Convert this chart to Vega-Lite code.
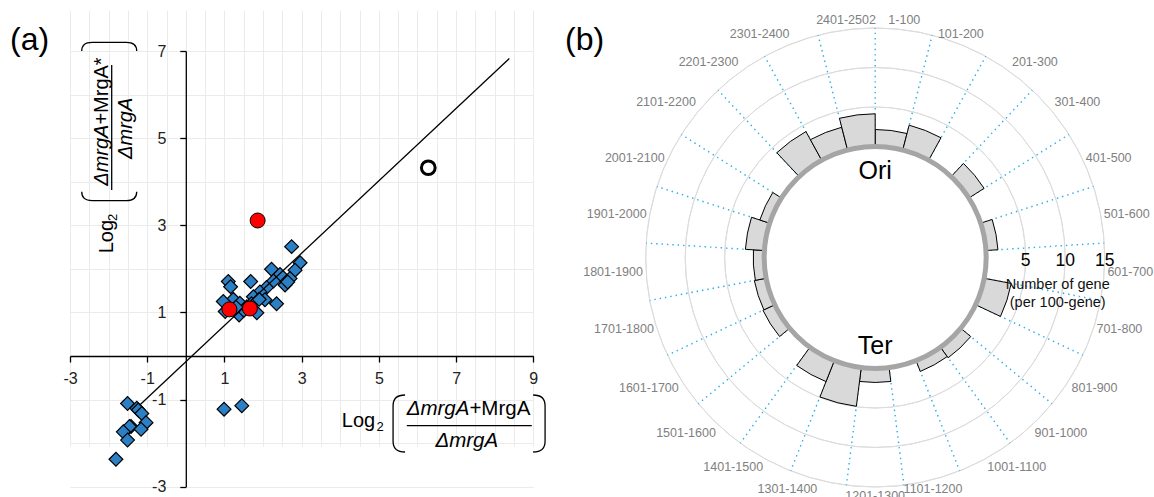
{
  "$schema": "https://vega.github.io/schema/vega-lite/v6.json",
  "width": 1154,
  "height": 497,
  "autosize": "none",
  "padding": 0,
  "background": "white",
  "config": {"view": {"stroke": null}, "font": "Liberation Sans"},
  "datasets": {
    "blue": [
      {"x": 2.74, "y": 2.51}, {"x": 2.96, "y": 2.14}, {"x": 2.83, "y": 1.97}, {"x": 2.70, "y": 1.78},
      {"x": 2.57, "y": 1.63}, {"x": 2.64, "y": 1.70}, {"x": 2.22, "y": 1.99}, {"x": 2.44, "y": 1.87},
      {"x": 2.27, "y": 1.72}, {"x": 2.09, "y": 1.57}, {"x": 1.92, "y": 1.47}, {"x": 1.75, "y": 1.36},
      {"x": 2.05, "y": 1.29}, {"x": 2.35, "y": 1.20}, {"x": 1.68, "y": 1.71}, {"x": 1.10, "y": 1.71},
      {"x": 1.16, "y": 1.59}, {"x": 1.23, "y": 1.30}, {"x": 0.97, "y": 1.25}, {"x": 1.40, "y": 1.21},
      {"x": 1.58, "y": 1.13}, {"x": 1.02, "y": 1.02}, {"x": 1.38, "y": 0.94}, {"x": 1.84, "y": 0.99},
      {"x": 1.50, "y": 1.05}, {"x": 1.30, "y": 1.12}, {"x": 1.70, "y": 1.20}, {"x": 1.90, "y": 1.30},
      {"x": -1.51, "y": -1.09}, {"x": -1.27, "y": -1.20}, {"x": -1.23, "y": -1.24}, {"x": -1.14, "y": -1.32},
      {"x": -1.03, "y": -1.53}, {"x": -1.42, "y": -1.62}, {"x": -1.46, "y": -1.62}, {"x": -1.62, "y": -1.74},
      {"x": -1.16, "y": -1.68}, {"x": -1.51, "y": -1.93}, {"x": -1.81, "y": -2.37},
      {"x": 0.99, "y": -1.22}, {"x": 1.45, "y": -1.14}
    ],
    "red": [{"x": 1.13, "y": 1.07}, {"x": 1.66, "y": 1.09}, {"x": 1.86, "y": 3.11}],
    "open": [{"x": 6.28, "y": 4.32}],
    "line": [{"x": -1.2, "y": -1.13}, {"x": 8.38, "y": 6.83}],
    "bins": [
      {"bin": "1-100", "start": 0, "end": 1, "mid": 0.5, "n": 2.15},
      {"bin": "101-200", "start": 1, "end": 2, "mid": 1.5, "n": 3.24},
      {"bin": "201-300", "start": 2, "end": 3, "mid": 2.5, "n": 0},
      {"bin": "301-400", "start": 3, "end": 4, "mid": 3.5, "n": 2.28},
      {"bin": "401-500", "start": 4, "end": 5, "mid": 4.5, "n": 0},
      {"bin": "501-600", "start": 5, "end": 6, "mid": 5.5, "n": 1.52},
      {"bin": "601-700", "start": 6, "end": 7, "mid": 6.5, "n": 0},
      {"bin": "701-800", "start": 7, "end": 8, "mid": 7.5, "n": 3.48},
      {"bin": "801-900", "start": 8, "end": 9, "mid": 8.5, "n": 0},
      {"bin": "901-1000", "start": 9, "end": 10, "mid": 9.5, "n": 1.65},
      {"bin": "1001-1100", "start": 10, "end": 11, "mid": 10.5, "n": 1.46},
      {"bin": "1101-1200", "start": 11, "end": 12, "mid": 11.5, "n": 0},
      {"bin": "1201-1300", "start": 12, "end": 13, "mid": 12.5, "n": 1.77},
      {"bin": "1301-1400", "start": 13, "end": 14, "mid": 13.5, "n": 4.94},
      {"bin": "1401-1500", "start": 14, "end": 15, "mid": 14.5, "n": 2.85},
      {"bin": "1501-1600", "start": 15, "end": 16, "mid": 15.5, "n": 0},
      {"bin": "1601-1700", "start": 16, "end": 17, "mid": 16.5, "n": 1.65},
      {"bin": "1701-1800", "start": 17, "end": 18, "mid": 17.5, "n": 1.52},
      {"bin": "1801-1900", "start": 18, "end": 19, "mid": 18.5, "n": 1.39},
      {"bin": "1901-2000", "start": 19, "end": 20, "mid": 19.5, "n": 2.41},
      {"bin": "2001-2100", "start": 20, "end": 21, "mid": 20.5, "n": 1.30},
      {"bin": "2101-2200", "start": 21, "end": 22, "mid": 21.5, "n": 0},
      {"bin": "2201-2300", "start": 22, "end": 23, "mid": 22.5, "n": 4.14},
      {"bin": "2301-2400", "start": 23, "end": 24, "mid": 23.5, "n": 2.97},
      {"bin": "2401-2502", "start": 24, "end": 25, "mid": 24.5, "n": 4.14}
    ],
    "rings": [{"r": 5}, {"r": 10}, {"r": 15}]
  },
  "layer": [
    {
      "data": {"name": "blue"},
      "mark": {"type": "point", "shape": "diamond", "filled": true, "fill": "#2B80C5", "stroke": "#000", "strokeWidth": 1.2, "size": 190, "opacity": 1},
      "encoding": {
        "x": {"field": "x", "type": "quantitative",
          "scale": {"domain": [-3, 9], "range": [70, 533.3], "nice": false, "zero": false},
          "axis": {"title": null, "values": [-3,-2.5,-2,-1.5,-1,-0.5,0,0.5,1,1.5,2,2.5,3,3.5,4,4.5,5,5.5,6,6.5,7,7.5,8,8.5,9],
            "grid": true, "gridColor": "#ebebeb", "gridWidth": 1,
            "domainColor": "#000", "domainWidth": 1.3, "tickColor": "#000", "tickWidth": 1.3, "tickSize": 6,
            "tickOpacity": {"condition": {"test": "abs(datum.value % 2) == 1", "value": 1}, "value": 0},
            "labelExpr": "abs(datum.value % 2) == 1 ? '' + datum.value : ''",
            "labelFont": "Liberation Sans", "labelFontSize": 16, "labelColor": "#222", "labelPadding": 8,
            "labelFlush": false, "labelOverlap": false, "labelBound": false, "offset": -141, "zindex": 0}},
        "y": {"field": "y", "type": "quantitative",
          "scale": {"domain": [-3, 7], "range": [486.7, 51], "nice": false, "zero": false},
          "axis": {"title": null, "values": [-3,-2.5,-2,-1.5,-1,-0.5,0,0.5,1,1.5,2,2.5,3,3.5,4,4.5,5,5.5,6,6.5,7],
            "grid": true, "gridColor": "#ebebeb", "gridWidth": 1,
            "domainColor": "#000", "domainWidth": 1.3, "tickColor": "#000", "tickWidth": 1.3, "tickSize": 6,
            "tickOpacity": {"condition": {"test": "abs(datum.value % 2) == 1", "value": 1}, "value": 0},
            "labelExpr": "abs(datum.value % 2) == 1 ? '' + datum.value : ''",
            "labelFont": "Liberation Sans", "labelFontSize": 16, "labelColor": "#222", "labelPadding": 14,
            "labelFlush": false, "labelOverlap": false, "labelBound": false, "offset": -185.8, "zindex": 0}}
      }
    },
    {
      "data": {"name": "line"},
      "mark": {"type": "line", "stroke": "#000", "strokeWidth": 1.3},
      "encoding": {"x": {"field": "x", "type": "quantitative"}, "y": {"field": "y", "type": "quantitative"}}
    },
    {
      "data": {"name": "red"},
      "mark": {"type": "point", "shape": "circle", "filled": true, "fill": "#FF0000", "stroke": "#000", "strokeWidth": 1, "size": 225, "opacity": 1},
      "encoding": {"x": {"field": "x", "type": "quantitative"}, "y": {"field": "y", "type": "quantitative"}}
    },
    {
      "data": {"name": "open"},
      "mark": {"type": "point", "shape": "circle", "filled": true, "fill": "#fff", "stroke": "#000", "strokeWidth": 3, "size": 188, "opacity": 1},
      "encoding": {"x": {"field": "x", "type": "quantitative"}, "y": {"field": "y", "type": "quantitative"}}
    },
    {
      "data": {"values": [{}]},
      "mark": {"type": "text", "text": "(a)", "fontSize": 32, "align": "left", "baseline": "alphabetic", "fill": "#000"},
      "encoding": {"x": {"datum": -4.554}, "y": {"datum": 7.023}}
    },
    {
      "data": {"values": [{}]},
      "mark": {"type": "text", "text": "(b)", "fontSize": 32, "align": "left", "baseline": "alphabetic", "fill": "#000"},
      "encoding": {"x": {"datum": 9.824}, "y": {"datum": 7.023}}
    },
    {
      "data": {"values": [{}]},
      "mark": {"type": "text", "text": "Log", "fontSize": 20, "align": "left", "baseline": "alphabetic", "fill": "#000"},
      "encoding": {"x": {"datum": 4.039}, "y": {"datum": -1.623}}
    },
    {
      "data": {"values": [{}]},
      "mark": {"type": "text", "text": "2", "fontSize": 13, "align": "left", "baseline": "alphabetic", "fill": "#000"},
      "encoding": {"x": {"datum": 4.94}, "y": {"datum": -1.714}}
    },
    {
      "data": {"values": [{}]},
      "mark": {"type": "text", "text": "ΔmrgA", "fontSize": 20.5, "fontStyle": "italic", "align": "right", "baseline": "alphabetic", "fill": "#000"},
      "encoding": {"x": {"datum": 7.345}, "y": {"datum": -1.354}}
    },
    {
      "data": {"values": [{}]},
      "mark": {"type": "text", "text": "+MrgA", "fontSize": 20.5, "align": "left", "baseline": "alphabetic", "fill": "#000"},
      "encoding": {"x": {"datum": 7.345}, "y": {"datum": -1.354}}
    },
    {
      "data": {"values": [{}]},
      "mark": {"type": "rule", "stroke": "#000", "strokeWidth": 1.3},
      "encoding": {"x": {"datum": 5.723}, "x2": {"datum": 8.961}, "y": {"datum": -1.6}}
    },
    {
      "data": {"values": [{}]},
      "mark": {"type": "text", "text": "ΔmrgA", "fontSize": 20.5, "fontStyle": "italic", "align": "center", "baseline": "alphabetic", "fill": "#000"},
      "encoding": {"x": {"datum": 7.277}, "y": {"datum": -2.095}}
    },
    {
      "data": {"values": [{}]},
      "mark": {"type": "point", "shape": "M 0.21 -1 C -0.08 -1 -0.21 -0.86 -0.21 -0.62 L -0.21 0.62 C -0.21 0.86 -0.08 1 0.21 1", "filled": false, "stroke": "#000", "strokeWidth": 1.3, "size": 3249, "opacity": 1},
      "encoding": {"x": {"datum": 5.523}, "y": {"datum": -1.549}}
    },
    {
      "data": {"values": [{}]},
      "mark": {"type": "point", "shape": "M -0.21 -1 C 0.08 -1 0.21 -0.86 0.21 -0.62 L 0.21 0.62 C 0.21 0.86 0.08 1 -0.21 1", "filled": false, "stroke": "#000", "strokeWidth": 1.3, "size": 3249, "opacity": 1},
      "encoding": {"x": {"datum": 9.15}, "y": {"datum": -1.549}}
    },
    {
      "data": {"values": [{}]},
      "mark": {"type": "text", "text": "Log", "fontSize": 20, "angle": 270, "align": "left", "baseline": "alphabetic", "fill": "#000"},
      "encoding": {"x": {"datum": -1.878}, "y": {"datum": 2.357}}
    },
    {
      "data": {"values": [{}]},
      "mark": {"type": "text", "text": "2", "fontSize": 13, "angle": 270, "align": "left", "baseline": "alphabetic", "fill": "#000"},
      "encoding": {"x": {"datum": -1.775}, "y": {"datum": 3.098}}
    },
    {
      "data": {"values": [{}]},
      "mark": {"type": "text", "text": "ΔmrgA", "fontSize": 20, "fontStyle": "italic", "angle": 270, "align": "right", "baseline": "alphabetic", "fill": "#000"},
      "encoding": {"x": {"datum": -2.016}, "y": {"datum": 5.311}}
    },
    {
      "data": {"values": [{}]},
      "mark": {"type": "text", "text": "+MrgA*", "fontSize": 20, "angle": 270, "align": "left", "baseline": "alphabetic", "fill": "#000"},
      "encoding": {"x": {"datum": -2.016}, "y": {"datum": 5.311}}
    },
    {
      "data": {"values": [{}]},
      "mark": {"type": "rule", "stroke": "#000", "strokeWidth": 1.3},
      "encoding": {"x": {"datum": -1.92}, "y": {"datum": 3.81}, "y2": {"datum": 6.68}}
    },
    {
      "data": {"values": [{}]},
      "mark": {"type": "text", "text": "ΔmrgA", "fontSize": 20, "fontStyle": "italic", "angle": 270, "align": "center", "baseline": "alphabetic", "fill": "#000"},
      "encoding": {"x": {"datum": -1.407}, "y": {"datum": 5.226}}
    },
    {
      "data": {"values": [{}]},
      "mark": {"type": "point", "shape": "M -1 -0.16 C -1 0.06 -0.88 0.16 -0.62 0.16 L 0.62 0.16 C 0.88 0.16 1 0.06 1 -0.16", "filled": false, "stroke": "#000", "strokeWidth": 1.3, "size": 3025, "opacity": 1},
      "encoding": {"x": {"datum": -1.984}, "y": {"datum": 3.668}}
    },
    {
      "data": {"values": [{}]},
      "mark": {"type": "point", "shape": "M -1 0.16 C -1 -0.06 -0.88 -0.16 -0.62 -0.16 L 0.62 -0.16 C 0.88 -0.16 1 -0.06 1 0.16", "filled": false, "stroke": "#000", "strokeWidth": 1.3, "size": 3025, "opacity": 1},
      "encoding": {"x": {"datum": -1.984}, "y": {"datum": 7.099}}
    },
    {
      "data": {"name": "rings"},
      "mark": {"type": "arc", "filled": false, "stroke": "#dcdcdc", "strokeWidth": 1},
      "encoding": {
        "x": {"datum": 17.855}, "y": {"datum": 2.261},
        "theta": {"datum": 0, "scale": {"domain": [0, 25], "range": [0, 6.283185307179586]}},
        "theta2": {"datum": 25},
        "radius": {"field": "r", "type": "quantitative", "scale": {"type": "linear", "domain": [0, 15], "range": [111, 229.5], "zero": false}},
        "radius2": {"field": "r"}
      }
    },
    {
      "data": {"name": "bins"},
      "mark": {"type": "arc", "filled": false, "stroke": "#29b0e6", "strokeWidth": 1.4, "strokeDash": [1.4, 3.986], "strokeDashOffset": 0.7},
      "encoding": {
        "x": {"datum": 17.855}, "y": {"datum": 2.261},
        "theta": {"field": "start", "type": "quantitative", "stack": null},
        "theta2": {"field": "start"},
        "radius": {"datum": 15},
        "radius2": {"datum": 0}
      }
    },
    {
      "data": {"name": "bins"},
      "transform": [{"filter": "datum.n > 0"}],
      "mark": {"type": "arc", "fill": "#d9d9d9", "stroke": "#000", "strokeWidth": 1},
      "encoding": {
        "x": {"datum": 17.855}, "y": {"datum": 2.261},
        "theta": {"field": "start", "type": "quantitative", "stack": null},
        "theta2": {"field": "end"},
        "radius": {"field": "n", "type": "quantitative"},
        "radius2": {"datum": 0}
      }
    },
    {
      "data": {"values": [{}]},
      "mark": {"type": "arc", "filled": false, "stroke": "#a5a5a5", "strokeWidth": 5},
      "encoding": {
        "x": {"datum": 17.855}, "y": {"datum": 2.261},
        "theta": {"datum": 0}, "theta2": {"datum": 25},
        "radius": {"datum": 0}, "radius2": {"datum": 0}
      }
    },
    {
      "data": {"name": "bins"},
      "mark": {"type": "text", "fontSize": 12.5, "fill": "#808080",
        "align": {"expr": "sin(datum.mid*2*PI/25) > 0.4 ? 'left' : (sin(datum.mid*2*PI/25) < -0.2 ? 'right' : 'center')"},
        "baseline": {"expr": "cos(datum.mid*2*PI/25) > 0.55 ? 'bottom' : (cos(datum.mid*2*PI/25) < -0.45 ? 'top' : 'middle')"}},
      "encoding": {
        "x": {"datum": 17.855}, "y": {"datum": 2.261},
        "theta": {"field": "mid", "type": "quantitative", "stack": null},
        "radius": {"datum": 15.4},
        "text": {"field": "bin"}
      }
    },
    {
      "data": {"name": "rings"},
      "mark": {"type": "text", "fontSize": 17.5, "fill": "#000", "align": "center", "baseline": "middle", "dy": 4},
      "encoding": {
        "x": {"datum": 17.855}, "y": {"datum": 2.261},
        "theta": {"datum": 6.25},
        "radius": {"field": "r", "type": "quantitative"},
        "text": {"field": "r"}
      }
    },
    {
      "data": {"values": [{}]},
      "mark": {"type": "text", "text": ["Number of gene", "(per 100-gene)"], "fontSize": 14.5, "lineHeight": 18, "fill": "#111", "align": "center", "baseline": "middle"},
      "encoding": {
        "x": {"datum": 17.855}, "y": {"datum": 2.261},
        "theta": {"datum": 6.85}, "radius": {"datum": 9.32}
      }
    },
    {
      "data": {"values": [{}]},
      "mark": {"type": "text", "text": "Ori", "fontSize": 25, "fill": "#000", "align": "center", "baseline": "middle"},
      "encoding": {
        "x": {"datum": 17.855}, "y": {"datum": 2.261},
        "theta": {"datum": 0}, "radius": {"datum": -3.1}
      }
    },
    {
      "data": {"values": [{}]},
      "mark": {"type": "text", "text": "Ter", "fontSize": 25, "fill": "#000", "align": "center", "baseline": "middle"},
      "encoding": {
        "x": {"datum": 17.855}, "y": {"datum": 2.261},
        "theta": {"datum": 12.5}, "radius": {"datum": -2.85}
      }
    }
  ]
}
